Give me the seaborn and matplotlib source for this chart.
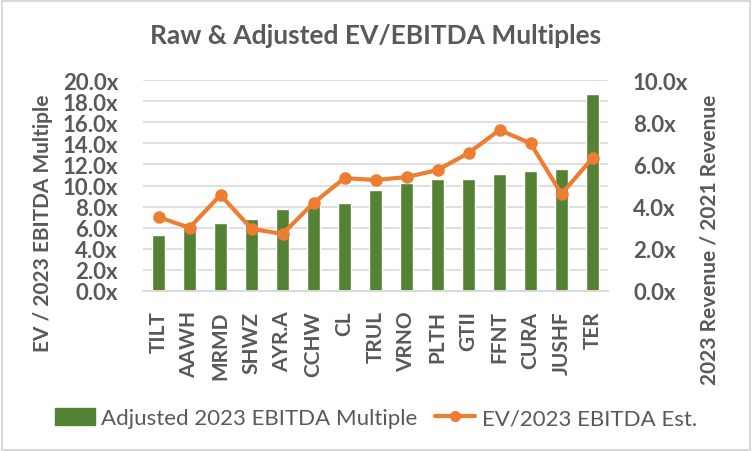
import numpy as np
import pandas as pd
import matplotlib
matplotlib.use("Agg")
import matplotlib.pyplot as plt
import seaborn as sns
from matplotlib.lines import Line2D
from matplotlib.patches import Patch

# data
tickers = ['TILT', 'AAWH', 'MRMD', 'SHWZ', 'AYR.A', 'CCHW', 'CL', 'TRUL',
           'VRNO', 'PLTH', 'GTII', 'FFNT', 'CURA', 'JUSHF', 'TER']
adj_ebitda = [5.3, 6.0, 6.4, 6.8, 7.8, 8.1, 8.35, 9.55,
              10.2, 10.6, 10.6, 11.1, 11.4, 11.6, 18.7]
ev_ebitda = [3.5, 3.0, 4.55, 2.95, 2.7, 4.17, 5.35, 5.26,
             5.4, 5.73, 6.54, 7.63, 7.0, 4.6, 6.3]

Data = pd.DataFrame({'Ticker': tickers, 'Adj': adj_ebitda, 'EV': ev_ebitda})

sns.set_theme(style='white')
plt.rcParams['font.family'] = ['Lato', 'DejaVu Sans']

grey = '#595959'
green = '#548235'
orange = '#ED7D31'

fig = plt.figure(figsize=(7.52, 4.52), dpi=100)
ax = fig.add_axes([143/752, 1 - 292/452, (608-143)/752, (292-81)/452])

# bars on left axis
sns.barplot(data=Data, x='Ticker', y='Adj', color=green, width=0.42,
            saturation=1, ax=ax, zorder=2)
ax.set_ylim(0, 20)
ax.set_yticks(np.arange(0, 21, 2))
ax.set_yticklabels([f'{v:.1f}x' for v in np.arange(0, 21, 2)])
ax.yaxis.grid(True, color='#D9D9D9', linewidth=1.2, zorder=0)
ax.set_axisbelow(True)
ax.set_xlabel('')
ax.set_ylabel('')
ax.set_xlim(-0.5, len(tickers) - 0.5)

# line on right axis
ax2 = ax.twinx()
ax2.plot(range(len(tickers)), Data['EV'], color=orange, linewidth=3,
         marker='o', markersize=8, zorder=3)
ax2.set_ylim(0, 10)
ax2.set_yticks(np.arange(0, 11, 2))
ax2.set_yticklabels([f'{v:.1f}x' for v in np.arange(0, 11, 2)])
ax2.set_ylabel('')
ax2.grid(False)

for a in (ax, ax2):
    for s in ['top', 'left', 'right']:
        a.spines[s].set_visible(False)
    a.spines['bottom'].set_color('#D9D9D9')
    a.spines['bottom'].set_linewidth(1.2)
    a.tick_params(axis='both', length=0, colors=grey)
    for lbl in a.get_yticklabels():
        lbl.set_fontsize(16)
        lbl.set_fontweight('bold')
        lbl.set_color(grey)

ax.tick_params(axis='x', pad=14)
ax.tick_params(axis='y', pad=18)
ax2.tick_params(axis='y', pad=18)
for lbl in ax.get_xticklabels():
    lbl.set_rotation(90)
    lbl.set_fontsize(15)
    lbl.set_fontweight('bold')
    lbl.set_color(grey)

# axis titles placed like the Excel chart
fig.text(43/752, 1 - 223/452, 'EV / 2023 EBITDA Multiple', rotation=90,
         ha='center', va='center', fontsize=15, fontweight='bold', color=grey)
fig.text(709/752, 1 - 240/452, '2023 Revenue / 2021 Revenue', rotation=90,
         ha='center', va='center', fontsize=15, fontweight='bold', color=grey)

fig.text(376/752, 1 - 36/452, 'Raw & Adjusted EV/EBITDA Multiples',
         ha='center', va='center', fontsize=19, fontweight='bold', color=grey)

handles = [Patch(facecolor=green, edgecolor=green),
           Line2D([0], [0], color=orange, linewidth=3, marker='o', markersize=7)]
fig.legend(handles, ['Adjusted 2023 EBITDA Multiple', 'EV/2023 EBITDA Est.'],
           loc='center', bbox_to_anchor=(0.5, 1 - 419/452), ncol=2, frameon=False,
           fontsize=16, labelcolor=grey, handlelength=1.8, handleheight=0.8,
           handletextpad=0.3, columnspacing=0.8)

fig.patches.append(plt.Rectangle((0.002, 0.003), 0.995, 0.993, transform=fig.transFigure,
                                 fill=False, edgecolor='#D9D9D9', linewidth=1.5))

fig.savefig('out.png', dpi=100)
